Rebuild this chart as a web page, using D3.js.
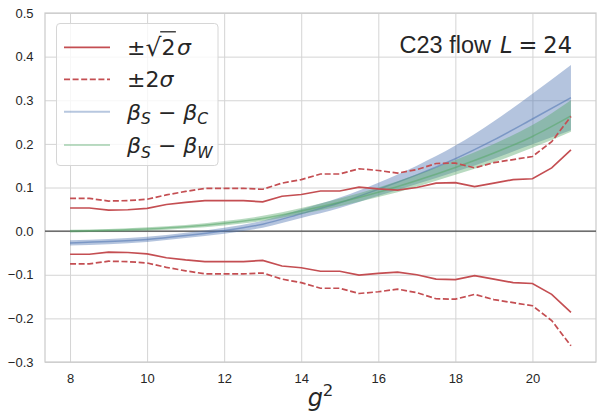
<!DOCTYPE html>
<html>
<head>
<meta charset="utf-8">
<script src="https://cdn.jsdelivr.net/npm/d3@7"></script>
<style>
  html, body { margin: 0; padding: 0; background: #ffffff; }
  svg { display: block; }
</style>
</head>
<body>
<svg id="chart" width="598" height="415"></svg>
<script>
// ---------------- data ----------------
const g2 = [8, 8.5, 9, 9.5, 10, 10.5, 11, 11.5, 12, 12.5, 13, 13.5, 14, 14.5,
            15, 15.5, 16, 16.5, 17, 17.5, 18, 18.5, 19, 19.5, 20, 20.5, 21];
// magnitude of the ±sqrt(2) sigma band (solid red)
const sigmaSqrt2 = [0.053, 0.053, 0.048, 0.049, 0.052, 0.061, 0.066, 0.070, 0.070, 0.070,
                    0.067, 0.080, 0.084, 0.092, 0.092, 0.101, 0.097, 0.094, 0.100, 0.110,
                    0.111, 0.102, 0.110, 0.118, 0.120, 0.145, 0.186];
// magnitude of the ±2 sigma band (dashed red)
const sigma2 = [0.075, 0.075, 0.069, 0.070, 0.073, 0.083, 0.091, 0.098, 0.098, 0.098,
                0.096, 0.110, 0.118, 0.131, 0.131, 0.143, 0.139, 0.133, 0.141, 0.155,
                0.156, 0.145, 0.157, 0.164, 0.171, 0.205, 0.263];

const g2Beta = [8, 9, 10, 11, 12, 13, 14, 15, 16, 17, 18, 19, 20, 21];
const betaSC = [-0.027, -0.024, -0.019, -0.010, 0.001, 0.016, 0.040, 0.065, 0.096, 0.129, 0.166, 0.209, 0.257, 0.306];
const betaSCErr = [0.006, 0.006, 0.006, 0.006, 0.007, 0.008, 0.010, 0.012, 0.015, 0.021, 0.030, 0.043, 0.058, 0.075];
const betaSW = [0.000, 0.002, 0.005, 0.010, 0.018, 0.029, 0.046, 0.066, 0.089, 0.116, 0.146, 0.179, 0.217, 0.264];
const betaSWErr = [0.003, 0.003, 0.004, 0.004, 0.005, 0.006, 0.007, 0.009, 0.011, 0.014, 0.017, 0.021, 0.026, 0.036];

const xTicks = [8, 10, 12, 14, 16, 18, 20];
const yTicks = [-0.3, -0.2, -0.1, 0.0, 0.1, 0.2, 0.3, 0.4, 0.5];

// ---------------- layout ----------------
const svg = d3.select("#chart");
const L = 45, R = 596, T = 13, B = 362;
const x = d3.scaleLinear().domain([7.35, 21.65]).range([L, R]);
const y = d3.scaleLinear().domain([-0.3, 0.5]).range([B, T]);

const RED = "#C44E52", BLUE = "#4C72B0", GREEN = "#55A868";
const TXT = "#262626";
const GRID = "#d4d4d4";
const SANS = "'Liberation Sans', Arial, sans-serif";
const MATH = "'DejaVu Sans', sans-serif";

// grid
const gx = svg.append("g").attr("transform", `translate(0,${B})`)
  .call(d3.axisBottom(x).tickValues(xTicks).tickSize(-(B - T)).tickPadding(12)
        .tickFormat(d3.format("d")));
const gy = svg.append("g").attr("transform", `translate(${L},0)`)
  .call(d3.axisLeft(y).tickValues(yTicks).tickSize(-(R - L)).tickPadding(11.5)
        .tickFormat(d => d3.format(".1f")(d).replace("-", "\u2212")));
[gx, gy].forEach(g => {
  g.select(".domain").remove();
  g.selectAll(".tick line").attr("stroke", GRID).attr("stroke-width", 1);
  g.selectAll(".tick text").attr("fill", TXT)
    .style("font-family", SANS).style("font-size", "13px");
});

// frame
svg.append("rect").attr("x", L).attr("y", T).attr("width", R - L).attr("height", B - T)
  .attr("fill", "none").attr("stroke", "#cccccc").attr("stroke-width", 1.25);

// zero line
svg.append("line").attr("x1", L).attr("x2", R).attr("y1", y(0)).attr("y2", y(0))
  .attr("stroke", "#4a4a4a").attr("stroke-width", 1.3);

// bands
const crv = d3.curveMonotoneX;
function band(mid, err, color) {
  const area = d3.area().curve(crv)
    .x((d, i) => x(g2Beta[i]))
    .y0((d, i) => y(mid[i] - err[i]))
    .y1((d, i) => y(mid[i] + err[i]));
  svg.append("path").datum(mid).attr("d", area)
    .attr("fill", color).attr("fill-opacity", 0.42).attr("stroke", "none");
  const line = d3.line().curve(crv).x((d, i) => x(g2Beta[i])).y(d => y(d));
  svg.append("path").datum(mid).attr("d", line)
    .attr("fill", "none").attr("stroke", color).attr("stroke-opacity", 0.55).attr("stroke-width", 1.5);
}
band(betaSC, betaSCErr, BLUE);
band(betaSW, betaSWErr, GREEN);

// red sigma lines
function redLine(vals, sign, dashed) {
  const line = d3.line().x((d, i) => x(g2[i])).y(d => y(sign * d));
  const p = svg.append("path").datum(vals).attr("d", line)
    .attr("fill", "none").attr("stroke", RED).attr("stroke-width", 1.7);
  if (dashed) p.attr("stroke-dasharray", "6,2.6");
}
redLine(sigmaSqrt2, 1, false);
redLine(sigmaSqrt2, -1, false);
redLine(sigma2, 1, true);
redLine(sigma2, -1, true);

// ---------------- legend ----------------
const leg = svg.append("g");
leg.append("rect").attr("x", 56.5).attr("y", 23.5).attr("width", 161.5).attr("height", 142)
  .attr("rx", 3.5).attr("fill", "#ffffff").attr("fill-opacity", 0.8)
  .attr("stroke", "#d6d6d6").attr("stroke-width", 1);

const rows = [47.3, 79.3, 111.7, 145];
const FS = 22;
function sample(yc, color, dashed, opacity) {
  const l = leg.append("line").attr("x1", 64).attr("x2", 110).attr("y1", yc).attr("y2", yc)
    .attr("stroke", color).attr("stroke-width", dashed || opacity === 1 ? 1.7 : 2)
    .attr("stroke-opacity", opacity);
  if (dashed) l.attr("stroke-dasharray", "6,2.6");
}
sample(rows[0], RED, false, 1);
sample(rows[1], RED, true, 1);
sample(rows[2], BLUE, false, 0.4);
sample(rows[3], GREEN, false, 0.4);

function mathText(parent, x0, base, parts, fs) {
  const t = parent.append("text").attr("x", x0).attr("y", base)
    .attr("fill", TXT).style("font-family", MATH).style("font-size", (fs || FS) + "px");
  parts.forEach(p => {
    const s = t.append("tspan").text(p.t);
    if (p.italic) s.style("font-style", "italic");
    if (p.size) s.style("font-size", p.size + "px");
    if (p.dy) s.attr("dy", p.dy);
    if (p.dx) s.attr("dx", p.dx);
  });
  return t;
}
// row 1: ±√2σ
const t1 = mathText(leg, 127, rows[0] + 8, [
  { t: "±" }, { t: "√", size: 25, dy: 1 }, { t: "2", dy: -1 }, { t: "σ", italic: true, dx: 1.5 }
]);
{
  const e2 = t1.node().getExtentOfChar(2);
  const eS = t1.node().getExtentOfChar(1);
  leg.append("line").attr("x1", eS.x + eS.width - 1.2).attr("x2", e2.x + e2.width + 0.5)
    .attr("y1", rows[0] - 15.5).attr("y2", rows[0] - 15.5)
    .attr("stroke", TXT).attr("stroke-width", 1.3);
}
// row 2: ±2σ
mathText(leg, 127, rows[1] + 8, [{ t: "±2" }, { t: "σ", italic: true }]);
// row 3, 4: β_S − β_C / β_S − β_W
function betaRow(yc, sub2) {
  mathText(leg, 127, yc + 8, [
    { t: "β", italic: true },
    { t: "S", italic: true, size: 15.5, dy: 4.5 },
    { t: " − ", dy: -4.5 },
    { t: "β", italic: true },
    { t: sub2, italic: true, size: 15.5, dy: 4.5 }
  ]);
}
betaRow(rows[2], "C");
betaRow(rows[3], "W");

// ---------------- title annotation ----------------
svg.append("text").attr("x", 491).attr("y", 53).attr("text-anchor", "end")
  .attr("fill", TXT).style("font-size", "23.5px").style("font-family", SANS)
  .text("C23 flow");
mathText(svg, 572, 53, [
  { t: "L", italic: true },
  { t: "=", dx: 6 },
  { t: "24", dx: 6 }
], 22.5).attr("text-anchor", "end");

// ---------------- x label ----------------
const xl = svg.append("text").attr("x", 320.5).attr("y", 406).attr("text-anchor", "middle")
  .attr("fill", TXT).style("font-family", MATH).style("font-size", "24px");
xl.append("tspan").text("g").style("font-style", "italic");
xl.append("tspan").text("2").style("font-size", "16.5px").attr("dy", -10.5);
</script>
</body>
</html>
